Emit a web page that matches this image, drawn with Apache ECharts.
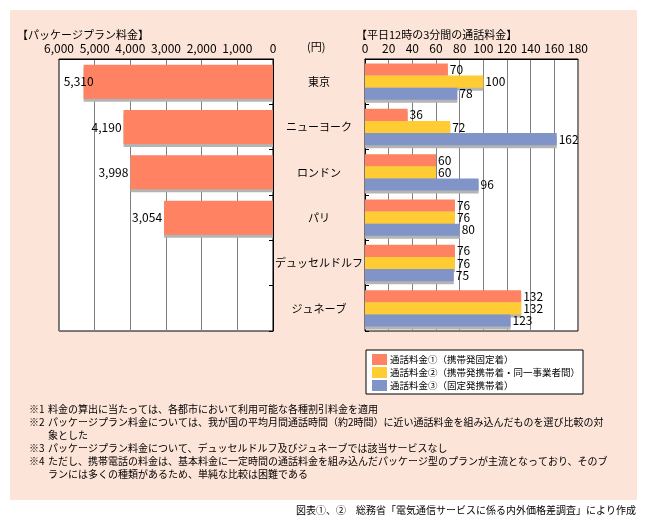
<!DOCTYPE html>
<html><head><meta charset="utf-8">
<script src="https://cdn.jsdelivr.net/npm/echarts@6/dist/echarts.min.js"></script>
<style>html,body{margin:0;padding:0;background:#fff}#c{width:647px;height:530px}</style>
</head><body><div id="c"></div>
<script>
const cities = ['東京','ニューヨーク','ロンドン','パリ','デュッセルドルフ','ジュネーブ'];
const packagePrice = [5310, 4190, 3998, 3054, null, null];
const call1 = [70, 36, 60, 76, 76, 132];
const call2 = [100, 72, 60, 76, 76, 132];
const call3 = [78, 162, 96, 80, 75, 123];
const leftTicks = [0, 1000, 2000, 3000, 4000, 5000, 6000];
const rightTicks = [0, 20, 40, 60, 80, 100, 120, 140, 160, 180];
const seriesNames = ['通話料金①（携帯発固定着）','通話料金②（携帯発携帯着・同一事業者間）','通話料金③（固定発携帯着）'];
const leftTitle = '【パッケージプラン料金】';
const rightTitle = '【平日12時の3分間の通話料金】';
const unitText = '(円)';
const notes = [
  ['※1','料金の算出に当たっては、各都市において利用可能な各種割引料金を適用'],
  ['※2','パッケージプラン料金については、我が国の平均月間通話時間（約2時間）に近い通話料金を組み込んだものを選び比較の対'],
  ['','象とした'],
  ['※3','パッケージプラン料金について、デュッセルドルフ及びジュネーブでは該当サービスなし'],
  ['※4','ただし、携帯電話の料金は、基本料金に一定時間の通話料金を組み込んだパッケージ型のプランが主流となっており、そのブ'],
  ['','ランには多くの種類があるため、単純な比較は困難である']
];
const sourceText = '図表①、②　総務省「電気通信サービスに係る内外価格差調査」により作成';

const FONT = '"Noto Sans CJK JP", sans-serif';
const colors = ['#FF8262', '#FFCC33', '#8194C7'];
const shadow = {shadowColor: '#b4b4b4', shadowOffsetX: 0, shadowOffsetY: 3, shadowBlur: 0};

const chart = echarts.init(document.getElementById('c'), null, {renderer: 'canvas'});

const graphics = [
  {type: 'rect', left: 10, top: 10, shape: {width: 627, height: 490}, style: {fill: '#FDE4D8'}, z: -10},
  {type: 'text', left: 17, top: 29, style: {text: leftTitle, font: '11px ' + FONT, fill: '#000'}},
  {type: 'text', left: 356, top: 29, style: {text: rightTitle, font: '11px ' + FONT, fill: '#000'}},
  {type: 'text', left: 307, top: 41, style: {text: unitText, font: '11px ' + FONT, fill: '#000'}},
  {type: 'text', right: 11, top: 505, style: {text: sourceText, font: '10px ' + FONT, fill: '#000'}}
];
notes.forEach((n, i) => {
  const y = 404 + i * 13;
  if (n[0]) graphics.push({type: 'text', left: 29, top: y, style: {text: n[0], font: '10px ' + FONT, fill: '#000'}});
  graphics.push({type: 'text', left: 48, top: y, style: {text: n[1], font: '10px ' + FONT, fill: '#000'}});
});

const fmt = v => v.toLocaleString('en-US');

chart.setOption({
  backgroundColor: '#fff',
  animation: false,
  textStyle: {fontFamily: FONT},
  graphic: graphics,
  legend: {
    data: seriesNames,
    orient: 'vertical',
    left: 366, top: 350,
    backgroundColor: '#fff',
    borderColor: '#000', borderWidth: 1, borderRadius: 0,
    padding: [4, 3, 3, 6],
    itemWidth: 15, itemHeight: 11, itemGap: 2,
    icon: 'rect',
    textStyle: {fontSize: 9.5, color: '#000', fontFamily: FONT, padding: [0, 0, 0, -2]}
  },
  grid: [
    {left: 59, right: 374, top: 59, bottom: 199, show: true, backgroundColor: '#fff', borderColor: '#000', borderWidth: 1},
    {left: 365, right: 69, top: 59, bottom: 199, show: true, backgroundColor: '#fff', borderColor: '#000', borderWidth: 1}
  ],
  xAxis: [
    {gridIndex: 0, type: 'value', position: 'top', inverse: true, min: leftTicks[0], max: leftTicks[leftTicks.length - 1], interval: leftTicks[1] - leftTicks[0],
     axisLine: {show: true, lineStyle: {color: '#000'}}, axisTick: {show: false},
     axisLabel: {formatter: fmt, fontSize: 12, color: '#000', margin: 5, fontFamily: FONT},
     splitLine: {show: true, lineStyle: {color: '#808080', width: 1}}},
    {gridIndex: 1, type: 'value', position: 'top', min: rightTicks[0], max: rightTicks[rightTicks.length - 1], interval: rightTicks[1] - rightTicks[0],
     axisLine: {show: true, lineStyle: {color: '#000'}}, axisTick: {show: false},
     axisLabel: {fontSize: 12, color: '#000', margin: 5, fontFamily: FONT},
     splitLine: {show: true, lineStyle: {color: '#808080', width: 1}}}
  ],
  yAxis: [
    {gridIndex: 0, type: 'category', data: cities, inverse: true, position: 'right',
     axisLine: {show: true, lineStyle: {color: '#000'}},
     axisTick: {show: true, inside: true, length: 4, lineStyle: {color: '#000'}},
     axisLabel: {show: true, align: 'center', margin: 46, fontSize: 11, color: '#000', fontFamily: FONT},
     splitLine: {show: false}},
    {gridIndex: 1, type: 'category', data: cities, inverse: true, position: 'left',
     axisLine: {show: true, lineStyle: {color: '#000'}},
     axisTick: {show: true, inside: true, length: 4, lineStyle: {color: '#000'}},
     axisLabel: {show: false}, splitLine: {show: false}}
  ],
  series: [
    {name: 'パッケージプラン料金', type: 'bar', xAxisIndex: 0, yAxisIndex: 0, barCategoryGap: '25%',
     data: packagePrice.map((v, i) => i === 0 ? {value: v, label: {offset: [12, 0]}} : v),
     itemStyle: Object.assign({color: colors[0]}, shadow),
     label: {show: true, position: 'left', distance: 2, formatter: p => fmt(p.value), fontSize: 12, color: '#000', fontFamily: FONT}},
    ...[call1, call2, call3].map((arr, k) => ({
      name: seriesNames[k], type: 'bar', xAxisIndex: 1, yAxisIndex: 1,
      barGap: '0%', barCategoryGap: '20%',
      data: arr,
      itemStyle: Object.assign({color: colors[k]}, shadow),
      label: {show: true, position: 'right', distance: 2, fontSize: 12, color: '#000', fontFamily: FONT}
    }))
  ]
});
</script></body></html>
